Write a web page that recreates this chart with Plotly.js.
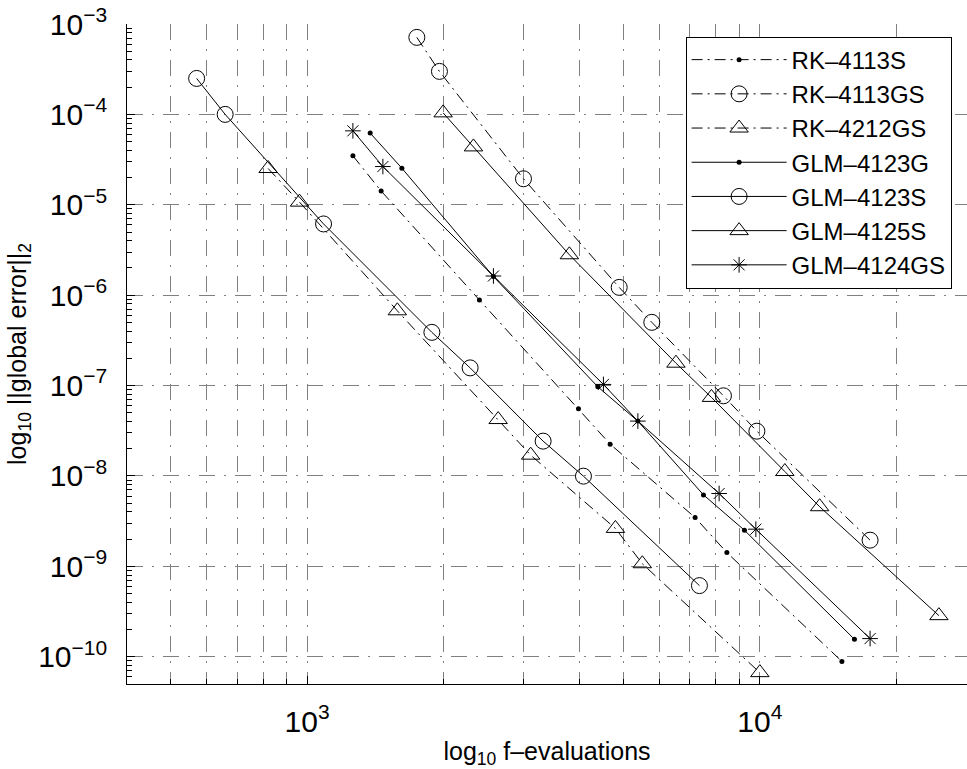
<!DOCTYPE html>
<html><head><meta charset="utf-8">
<script src="https://cdn.plot.ly/plotly-3.0.1.min.js"></script>
<style>html,body{margin:0;padding:0;background:#fff}#chart{width:967px;height:769px}</style>
</head><body><div id="chart"></div>
<script>
// f-evaluations (x) and ||global error||_2 (y) for each method
const seriesNames = ['RK–4113S', 'RK–4113GS', 'RK–4212GS', 'GLM–4123G', 'GLM–4123S', 'GLM–4125S', 'GLM–4124GS'];
const rk4113sX = [1262, 1457, 2402, 3975, 4670, 7194, 8456, 15180];
const rk4113sY = [3.48e-5, 1.42e-5, 8.85e-7, 5.53e-8, 2.25e-8, 3.47e-9, 1.42e-9, 8.89e-11];
const rk4113gsX = [1747, 1960, 3005, 4890, 5772, 8310, 9850, 17520];
const rk4113gsY = [7.11e-4, 2.99e-4, 1.94e-5, 1.22e-6, 5.01e-7, 7.71e-8, 3.13e-8, 1.95e-9];
const rk4212gsX = [820, 962, 1582, 2642, 3117, 4797, 5500, 10000];
const rk4212gsY = [2.52e-5, 1.07e-5, 6.72e-7, 4.21e-8, 1.70e-8, 2.63e-9, 1.07e-9, 6.68e-11];
const glm4123gX = [1378, 1619, 2579, 4386, 5377, 7507, 9247, 16181];
const glm4123gY = [6.21e-5, 2.54e-5, 1.61e-6, 9.7e-8, 4.05e-8, 6.18e-9, 2.51e-9, 1.56e-10];
const glm4123sX = [570, 659, 1087, 1886, 2291, 3321, 4077, 7355];
const glm4123sY = [2.50e-4, 1.0e-4, 6.14e-6, 3.88e-7, 1.57e-7, 2.43e-8, 9.96e-9, 6.13e-10];
const glm4125sX = [1997, 2330, 3795, 6526, 7818, 11356, 13556, 24863];
const glm4125sY = [1.04e-4, 4.37e-5, 2.80e-6, 1.77e-7, 7.40e-8, 1.12e-8, 4.57e-9, 2.85e-10];
const glm4124gsX = [1262, 1470, 2579, 4513, 5377, 8130, 9799, 17520];
const glm4124gsY = [6.58e-5, 2.65e-5, 1.63e-6, 1.03e-7, 4.05e-8, 6.4e-9, 2.58e-9, 1.59e-10];

const FONT = 'Liberation Sans, Arial, Helvetica, sans-serif';
const dashDot = '11px,5px,2px,5px';
const gridDash = '16px,9px,2px,9px';

function mk(name, x, y, dash, symbol, size, filled) {
  return {
    type: 'scatter', mode: 'lines+markers', name: name, x: x, y: y,
    line: {color: '#000', width: 1, dash: dash},
    marker: filled
      ? {symbol: symbol, size: size, color: '#000', line: {width: 0}}
      : {symbol: symbol, size: size, color: '#000', line: {color: '#000', width: 1}}
  };
}

const data = [
  mk(seriesNames[0], rk4113sX, rk4113sY, dashDot, 'circle', 5, true),
  mk(seriesNames[1], rk4113gsX, rk4113gsY, dashDot, 'circle-open', 16, false),
  mk(seriesNames[2], rk4212gsX, rk4212gsY, dashDot, 'triangle-up-open', 16, false),
  mk(seriesNames[3], glm4123gX, glm4123gY, 'solid', 'circle', 5, true),
  mk(seriesNames[4], glm4123sX, glm4123sY, 'solid', 'circle-open', 16, false),
  mk(seriesNames[5], glm4125sX, glm4125sY, 'solid', 'triangle-up-open', 16, false),
  mk(seriesNames[6], glm4124gsX, glm4124gsY, 'solid', 'asterisk-open', 13, false)
];

const axisCommon = {
  type: 'log', dtick: 1, exponentformat: 'power',
  showline: true, linecolor: '#000', linewidth: 1, mirror: false,
  ticks: 'inside', ticklen: 8, tickwidth: 1, tickcolor: '#000',
  showgrid: true, gridcolor: '#808080', gridwidth: 1, griddash: gridDash,
  zeroline: false, automargin: false,
  tickfont: {family: FONT, size: 24, color: '#000'}
};

const layout = {
  width: 967, height: 769,
  margin: {l: 127, r: 0, t: 24, b: 85, pad: 0},
  paper_bgcolor: '#fff', plot_bgcolor: '#fff',
  font: {family: FONT, size: 24, color: '#000'},
  showlegend: true,
  legend: {
    x: 0.665, y: 0.981, xanchor: 'left', yanchor: 'top',
    bgcolor: '#fff', bordercolor: '#000', borderwidth: 1,
    font: {family: FONT, size: 24, color: '#000'},
    itemwidth: 95, tracegroupgap: 0
  },
  xaxis: Object.assign({}, axisCommon, {
    range: [Math.log10(400), 4.4576],
    ticklabelstandoff: 12,
    minor: {dtick: 'D1', ticks: 'inside', ticklen: 5, tickcolor: '#000',
            showgrid: true, gridcolor: '#808080', gridwidth: 1, griddash: gridDash},
    title: {text: 'log<sub>10</sub> f–evaluations', font: {family: FONT, size: 25, color: '#000'}, standoff: 14}
  }),
  yaxis: Object.assign({}, axisCommon, {
    range: [Math.log10(5e-11), -3],
    ticklabelstandoff: 14,
    minor: {dtick: 'D1', ticks: 'inside', ticklen: 5, tickcolor: '#000', showgrid: false},
    title: {text: 'log<sub>10</sub> ||global error||<sub>2</sub>', font: {family: FONT, size: 25, color: '#000'}, standoff: 4}
  })
};

Plotly.newPlot('chart', data, layout, {displayModeBar: false, staticPlot: true});
</script>
</body></html>
